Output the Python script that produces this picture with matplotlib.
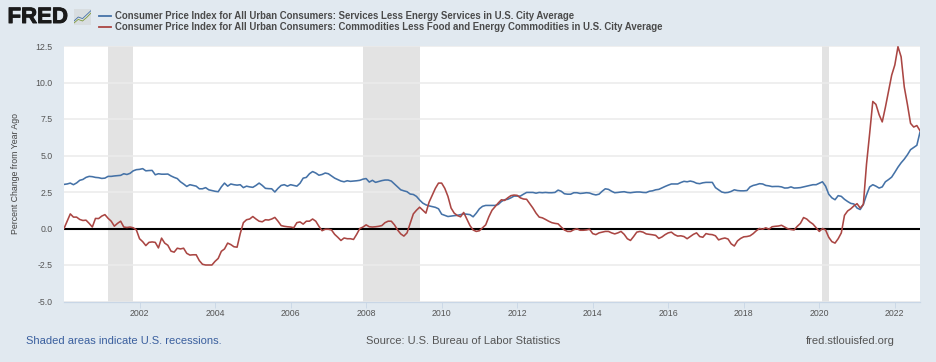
import numpy as np
import matplotlib
matplotlib.use('Agg')
import matplotlib.pyplot as plt
import matplotlib.patheffects as pe

plt.rcParams['font.family'] = ['Liberation Sans', 'DejaVu Sans']

# valores mensuales, por anio (enero 2000 - septiembre 2022)
servicios = [
    3.02, 3.05, 3.11, 3.0, 3.12, 3.3, 3.36, 3.5, 3.57, 3.55, 3.5, 3.48,
    3.43, 3.45, 3.57, 3.57, 3.6, 3.62, 3.64, 3.75, 3.7, 3.78, 3.95, 4.03,
    4.05, 4.1, 3.95, 3.97, 3.98, 3.68, 3.75, 3.72, 3.72, 3.73, 3.6, 3.5,
    3.42, 3.2, 3.05, 2.88, 3.0, 2.95, 2.9, 2.72, 2.72, 2.8, 2.65, 2.6,
    2.55, 2.52, 2.85, 3.11, 2.9, 3.05, 3.0, 2.97, 3.0, 2.8, 2.9, 2.85,
    2.82, 2.95, 3.11, 2.95, 2.75, 2.73, 2.72, 2.5, 2.75, 2.95, 3.0, 2.9,
    3.0, 2.95, 2.9, 3.1, 3.45, 3.5, 3.75, 3.9, 3.8, 3.65, 3.7, 3.8,
    3.75, 3.6, 3.45, 3.35, 3.25, 3.2, 3.27, 3.23, 3.25, 3.27, 3.3, 3.38,
    3.42, 3.18, 3.3, 3.16, 3.22, 3.28, 3.32, 3.32, 3.25, 3.05, 2.85, 2.65,
    2.58, 2.52, 2.36, 2.33, 2.2, 1.95, 1.74, 1.62, 1.55, 1.5, 1.45, 1.35,
    0.98, 0.9, 0.82, 0.85, 0.88, 0.9, 0.95, 1.0, 0.98, 0.95, 0.8, 1.05,
    1.35, 1.52, 1.58, 1.58, 1.58, 1.58, 1.65, 1.85, 1.97, 2.0, 2.1, 2.22,
    2.22, 2.22, 2.35, 2.47, 2.47, 2.47, 2.42, 2.47, 2.45, 2.47, 2.45, 2.45,
    2.47, 2.63, 2.55, 2.38, 2.35, 2.35, 2.45, 2.45, 2.4, 2.42, 2.45, 2.43,
    2.35, 2.3, 2.35, 2.55, 2.72, 2.68, 2.55, 2.45, 2.47, 2.5, 2.52, 2.47,
    2.45, 2.48, 2.5, 2.5, 2.47, 2.46, 2.55, 2.58, 2.65, 2.68, 2.78, 2.88,
    2.97, 3.05, 3.05, 3.05, 3.15, 3.23, 3.2, 3.25, 3.2, 3.1, 3.07, 3.13,
    3.16, 3.16, 3.16, 2.8, 2.65, 2.5, 2.45, 2.47, 2.54, 2.65, 2.6, 2.58,
    2.58, 2.6, 2.85, 2.95, 3.0, 3.07, 3.05, 2.95, 2.92, 2.87, 2.88, 2.88,
    2.85, 2.77, 2.78, 2.85, 2.77, 2.78, 2.8, 2.85, 2.9, 2.95, 3.0, 3.0,
    3.1, 3.2, 2.9, 2.35, 2.1, 1.97, 2.25, 2.2, 2.0, 1.85, 1.72, 1.68,
    1.4, 1.3, 1.65, 2.3, 2.85, 3.0, 2.9, 2.77, 2.85, 3.2, 3.35, 3.52,
    3.85, 4.2, 4.5, 4.75, 5.05, 5.4, 5.55, 5.7, 6.6,
]
mercancias = [
    0.0, 0.5, 1.0, 0.78, 0.78, 0.62, 0.55, 0.57, 0.35, 0.1, 0.69, 0.68,
    0.85, 0.95, 0.7, 0.5, 0.16, 0.35, 0.5, 0.1, 0.07, 0.1, 0.05, -0.1,
    -0.7, -0.9, -1.17, -0.95, -0.92, -0.95, -1.33, -0.66, -1.0, -1.15, -1.55, -1.62,
    -1.35, -1.4, -1.35, -1.7, -1.82, -1.8, -1.8, -2.2, -2.45, -2.5, -2.5, -2.5,
    -2.25, -2.05, -1.56, -1.4, -1.0, -1.1, -1.25, -1.28, -0.35, 0.4, 0.6, 0.65,
    0.82, 0.65, 0.5, 0.46, 0.6, 0.58, 0.65, 0.76, 0.5, 0.2, 0.15, 0.12,
    0.1, 0.05, 0.4, 0.45, 0.3, 0.5, 0.5, 0.65, 0.5, 0.15, -0.15, -0.05,
    -0.05, -0.1, -0.4, -0.6, -0.82, -0.65, -0.7, -0.7, -0.75, -0.4, 0.0, 0.1,
    0.25, 0.12, 0.1, 0.12, 0.15, 0.2, 0.4, 0.5, 0.5, 0.25, -0.1, -0.37,
    -0.52, -0.3, 0.35, 1.0, 1.25, 1.46, 1.25, 1.05, 1.8, 2.27, 2.75, 3.11,
    3.11, 2.75, 2.2, 1.4, 1.05, 0.89, 0.8, 1.1, 0.65, 0.2, -0.1, -0.2,
    -0.15, 0.05, 0.25, 0.8, 1.25, 1.5, 1.75, 1.97, 1.92, 2.1, 2.25, 2.29,
    2.27, 2.1, 2.02, 2.0, 1.7, 1.4, 1.05, 0.78, 0.73, 0.62, 0.5, 0.4,
    0.35, 0.32, 0.1, -0.1, -0.2, -0.2, -0.08, -0.02, -0.12, -0.12, -0.1, -0.05,
    -0.35, -0.42, -0.3, -0.25, -0.2, -0.2, -0.3, -0.37, -0.3, -0.2, -0.4, -0.7,
    -0.82, -0.55, -0.25, -0.2, -0.25, -0.37, -0.4, -0.43, -0.47, -0.68, -0.58, -0.42,
    -0.3, -0.25, -0.42, -0.52, -0.5, -0.55, -0.7, -0.55, -0.4, -0.3, -0.55, -0.6,
    -0.35, -0.4, -0.42, -0.5, -0.78, -0.7, -0.65, -0.72, -1.05, -1.2, -0.85, -0.68,
    -0.57, -0.55, -0.5, -0.35, -0.15, 0.0, -0.05, 0.05, -0.05, 0.12, 0.15, 0.17,
    0.22, 0.1, -0.02, -0.07, -0.1, 0.15, 0.35, 0.75, 0.65, 0.45, 0.3, 0.05,
    -0.2, 0.0, -0.1, -0.6, -0.9, -1.0, -0.7, -0.3, 0.9, 1.2, 1.35, 1.55,
    1.7, 1.4, 1.65, 4.4, 6.5, 8.7, 8.5, 7.8, 7.3, 8.3, 9.4, 10.5,
    11.2, 12.45, 11.76, 9.7, 8.5, 7.2, 6.95, 7.05, 6.7,
]
fechas = 2000 + np.arange(len(servicios)) / 12
recesiones = [(2001.17, 2001.83), (2007.92, 2009.42), (2020.08, 2020.25)]
y_ticks = [-5.0, -2.5, 0.0, 2.5, 5.0, 7.5, 10.0, 12.5]
x_ticks = list(range(2002, 2023, 2))
titulos = ['Consumer Price Index for All Urban Consumers: Services Less Energy Services in U.S. City Average',
           'Consumer Price Index for All Urban Consumers: Commodities Less Food and Energy Commodities in U.S. City Average']

fondo = '#e1e9f0'
azul = '#4572a7'
rojo = '#aa4643'
W, H = 936, 362

fig = plt.figure(figsize=(W / 100, H / 100), dpi=100, facecolor=fondo)
ax = fig.add_axes([64 / W, 1 - 301.5 / H, 856 / W, 255.5 / H])
ax.set_xlim(2000, fechas[-1])
ax.set_ylim(-5, 12.5)

for ini, fin in recesiones:
    ax.axvspan(ini, fin, color='#e3e3e3', lw=0, zorder=1)
ax.set_yticks(y_ticks)
ax.set_yticklabels(['%.1f' % v for v in y_ticks])
ax.set_xticks(x_ticks)
ax.grid(axis='y', color='#ebebeb', lw=1.1, zorder=0)
ax.tick_params(axis='y', length=0, pad=8, labelsize=6.3, labelcolor='#555555')
ax.tick_params(axis='x', length=4, width=0.6, color='#c8d6e6', pad=1.5, labelsize=6.3, labelcolor='#555555')
for lado in ['top', 'right', 'left']:
    ax.spines[lado].set_visible(False)
ax.spines['bottom'].set_color('#c8d6e6')
ax.spines['bottom'].set_linewidth(0.9)

ax.axhline(0, color='black', lw=1.5, zorder=2)
ax.plot(fechas, servicios, color=azul, lw=1.15, zorder=3, solid_joinstyle='round')
ax.plot(fechas, mercancias, color=rojo, lw=1.15, zorder=4, solid_joinstyle='round')

ax.text(-48 / 856, 0.5, 'Percent Change from Year Ago', transform=ax.transAxes, rotation=90,
        ha='center', va='center', fontsize=6.3, color='#444444')

# cabecera
fig.text(7.5 / W, 1 - 17.5 / H, 'FRED', fontsize=16, fontweight='bold', color='#1a1a1a', va='center', ha='left',
         path_effects=[pe.withStroke(linewidth=0.7, foreground='#1a1a1a')])
logo = fig.add_axes([74 / W, 1 - 25 / H, 17 / W, 16 / H], facecolor='#d8dde0')
logo.set_xticks([])
logo.set_yticks([])
logo.set_xlim(0, 4)
logo.set_ylim(0, 4)
for lado in logo.spines.values():
    lado.set_visible(False)
logo.plot([0, 1, 2, 3, 4], [1, 2, 1.6, 2.6, 3.6], color=azul, lw=0.6)
logo.plot([0, 1, 2, 3, 4], [0.5, 1.4, 1.0, 1.9, 3.0], color='#7f9a3c', lw=0.6)

for i, (titulo, color) in enumerate(zip(titulos, [azul, rojo])):
    y = 16 + 11 * i
    fig.add_artist(plt.Line2D([99 / W, 111 / W], [1 - y / H, 1 - y / H], color=color, lw=1.3))
    fig.text(115 / W, 1 - y / H, titulo, fontsize=6.93, fontweight='bold', color='#4a4a4a', va='center', ha='left')

# pie
fig.text(26 / W, 1 - 341 / H, 'Shaded areas indicate U.S. recessions.', fontsize=8, color='#3a5f9e', va='center', ha='left')
fig.text(366 / W, 1 - 341 / H, 'Source: U.S. Bureau of Labor Statistics', fontsize=8, color='#555555', va='center', ha='left')
fig.text(806 / W, 1 - 341 / H, 'fred.stlouisfed.org', fontsize=8, color='#555555', va='center', ha='left')

fig.savefig('out.png', dpi=100, facecolor=fondo)
